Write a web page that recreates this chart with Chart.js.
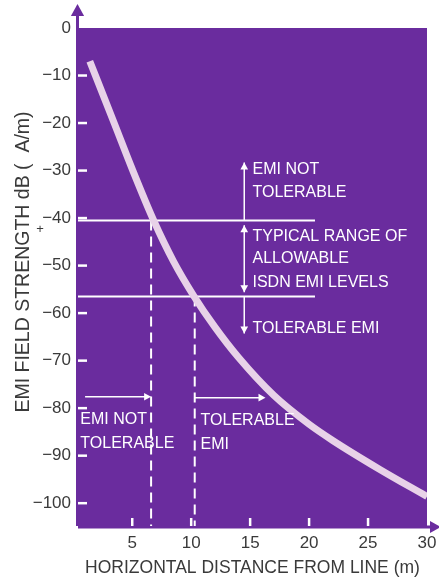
<!DOCTYPE html>
<html>
<head>
<meta charset="utf-8">
<script src="https://cdn.jsdelivr.net/npm/chart.js@4"></script>
<style>
  html, body { margin: 0; padding: 0; background: #fff; }
</style>
</head>
<body>
<canvas id="emiChart" width="439" height="583"></canvas>
<script>
////////////////////////////////////
//////////////// DATA //////////////
////////////////////////////////////

// EMI field strength vs horizontal distance from the line
const distance = [1.4, 3.5, 5, 6.8, 8.5, 10.2, 12, 14, 17, 20, 22, 26, 30];
const fieldStrength = [-7, -20.2, -29.7, -40.4, -49.1, -56.3, -62.9, -69.3, -77.3, -83.4, -86.8, -92.9, -98.6];

// typical range of allowable ISDN EMI levels
const allowableLevels = [-40.5, -56.5];
const levelLineEnd = 20.5;
// distances where the curve crosses those levels
const crossingDistance = [6.6, 10.3];

const xTicks = [5, 10, 15, 20, 25, 30];
const yTicks = [0, -10, -20, -30, -40, -50, -60, -70, -80, -90, -100];

const X_MIN = 0.4, X_MAX = 30, Y_MIN = -104.8, Y_MAX = 0;

const purple = '#6a2c9e';
const curveColor = '#e8d2e8';
const white = '#ffffff';
const inkColor = '#3a3a3a';
const textFont = '16px "Liberation Sans", Arial, sans-serif';

////////////////////////////////////
////////////// PLUGINS /////////////
////////////////////////////////////

function arrowHead(ctx, x, y, dir, size) {
  // dir: 'up' | 'down' | 'left' | 'right', tip at (x, y)
  const s = size || 6, w = s * 0.55;
  ctx.beginPath();
  if (dir === 'up') { ctx.moveTo(x, y); ctx.lineTo(x - w, y + s); ctx.lineTo(x + w, y + s); }
  if (dir === 'down') { ctx.moveTo(x, y); ctx.lineTo(x - w, y - s); ctx.lineTo(x + w, y - s); }
  if (dir === 'right') { ctx.moveTo(x, y); ctx.lineTo(x - s, y - w); ctx.lineTo(x - s, y + w); }
  if (dir === 'left') { ctx.moveTo(x, y); ctx.lineTo(x + s, y - w); ctx.lineTo(x + s, y + w); }
  ctx.closePath();
  ctx.fill();
}

const backdrop = {
  id: 'backdrop',
  beforeDraw(chart) {
    const { ctx, chartArea: a } = chart;
    ctx.save();
    ctx.fillStyle = purple;
    ctx.fillRect(a.left, a.top, a.right - a.left, a.bottom - a.top);

    // axis arrows
    ctx.strokeStyle = purple;
    ctx.lineWidth = 3;
    ctx.beginPath();
    ctx.moveTo(a.left - 0.5, a.bottom);
    ctx.lineTo(a.left - 0.5, 14);
    ctx.stroke();
    arrowHead(ctx, a.left - 0.5, 4, 'up', 12);
    ctx.beginPath();
    ctx.moveTo(a.left, a.bottom + 1);
    ctx.lineTo(434, a.bottom + 1);
    ctx.stroke();
    arrowHead(ctx, 441, a.bottom + 1, 'right', 11);

    // y axis title, drawn by hand so it sits where the original does
    ctx.fillStyle = inkColor;
    ctx.font = '19.5px "Liberation Sans", Arial, sans-serif';
    ctx.textAlign = 'center';
    ctx.textBaseline = 'middle';
    ctx.translate(24, 262);
    ctx.rotate(-Math.PI / 2);
    ctx.fillText('EMI FIELD STRENGTH dB (  A/m)', 0, 0);
    ctx.restore();

    // the stray mark beside "dB" in the axis title
    ctx.save();
    ctx.fillStyle = inkColor;
    ctx.font = '13px "Liberation Sans", Arial, sans-serif';
    ctx.textAlign = 'center';
    ctx.textBaseline = 'middle';
    ctx.fillText('+', 40, 229);
    ctx.restore();
  },
  beforeDatasetsDraw(chart) {
    const { ctx, chartArea: a, scales } = chart;
    ctx.save();
    ctx.strokeStyle = white;
    ctx.lineWidth = 2.5;
    yTicks.forEach((v) => {
      if (v === 0) return;
      const y = scales.y.getPixelForValue(v);
      ctx.beginPath();
      ctx.moveTo(a.left, y);
      ctx.lineTo(a.left + 9, y);
      ctx.stroke();
    });
    xTicks.forEach((v) => {
      if (v === X_MAX) return;
      const x = scales.x.getPixelForValue(v);
      ctx.beginPath();
      ctx.moveTo(x, a.bottom);
      ctx.lineTo(x, a.bottom - 8);
      ctx.stroke();
    });
    ctx.restore();
  },
};

// annotation arrows and labels, given in data units
const vArrows = [
  { x: 14.5, from: -40.5, to: -28.3, heads: ['end'] },
  { x: 14.5, from: -41.5, to: -55.6, heads: ['start', 'end'] },
  { x: 14.5, from: -56.5, to: -64.3, heads: ['end'] },
];
const hArrows = [
  { y: -77.6, from: 1.0, to: 6.6 },
  { y: -77.8, from: 10.3, to: 16.3 },
];
const labels = [
  { x: 0.6, y: -82.4, text: 'EMI NOT' },
  { x: 0.6, y: -87.5, text: 'TOLERABLE' },
  { x: 10.8, y: -82.6, text: 'TOLERABLE' },
  { x: 10.8, y: -87.7, text: 'EMI' },
  { x: 15.2, y: -29.9, text: 'EMI NOT' },
  { x: 15.2, y: -34.6, text: 'TOLERABLE' },
  { x: 15.2, y: -44.0, text: 'TYPICAL RANGE OF' },
  { x: 15.2, y: -48.6, text: 'ALLOWABLE' },
  { x: 15.2, y: -53.5, text: 'ISDN EMI LEVELS' },
  { x: 15.2, y: -63.3, text: 'TOLERABLE EMI' },
];

const annotations = {
  id: 'annotations',
  afterDatasetsDraw(chart) {
    const { ctx, scales } = chart;
    const px = (v) => scales.x.getPixelForValue(v);
    const py = (v) => scales.y.getPixelForValue(v);
    ctx.save();
    ctx.strokeStyle = white;
    ctx.fillStyle = white;
    ctx.lineWidth = 1.5;

    vArrows.forEach((arr) => {
      const x = px(arr.x), y0 = py(arr.from), y1 = py(arr.to);
      ctx.beginPath();
      ctx.moveTo(x, y0);
      ctx.lineTo(x, y1);
      ctx.stroke();
      const up = y1 < y0;
      if (arr.heads.includes('end')) arrowHead(ctx, x, y1, up ? 'up' : 'down', 7);
      if (arr.heads.includes('start')) arrowHead(ctx, x, y0, up ? 'down' : 'up', 7);
    });

    hArrows.forEach((arr) => {
      const y = py(arr.y), x0 = px(arr.from), x1 = px(arr.to);
      ctx.beginPath();
      ctx.moveTo(x0, y);
      ctx.lineTo(x1 - 4, y);
      ctx.stroke();
      arrowHead(ctx, x1, y, 'right', 7);
    });

    ctx.font = textFont;
    ctx.textBaseline = 'middle';
    ctx.textAlign = 'left';
    labels.forEach((l) => ctx.fillText(l.text, px(l.x), py(l.y)));
    ctx.restore();
  },
};

////////////////////////////////////
/////////////// CHART //////////////
////////////////////////////////////

function emiChart() {
  const ctx = document.getElementById('emiChart');

  const curve = distance.map((d, i) => ({ x: d, y: fieldStrength[i] }));
  const levelLines = allowableLevels.map((lvl) => ({
    data: [{ x: X_MIN, y: lvl }, { x: levelLineEnd, y: lvl }],
    borderColor: white,
    borderWidth: 2,
    pointRadius: 0,
    order: 2,
  }));
  const dropLines = crossingDistance.map((d, i) => ({
    data: [{ x: d, y: allowableLevels[i] }, { x: d, y: Y_MIN }],
    borderColor: white,
    borderWidth: 2,
    borderDash: [10, 6],
    pointRadius: 0,
    order: 2,
  }));

  new Chart(ctx, {
    type: 'line',
    data: {
      datasets: [
        {
          data: curve,
          borderColor: curveColor,
          borderWidth: 7,
          pointRadius: 0,
          cubicInterpolationMode: 'monotone',
          clip: 0,
          order: 0,
        },
        ...levelLines,
        ...dropLines,
      ],
    },
    options: {
      responsive: false,
      animation: false,
      devicePixelRatio: 1,
      layout: { padding: { top: 28, right: 12, left: 3, bottom: 0 } },
      plugins: {
        legend: { display: false },
        tooltip: { enabled: false },
      },
      scales: {
        x: {
          type: 'linear',
          min: X_MIN,
          max: X_MAX,
          afterBuildTicks: (scale) => { scale.ticks = xTicks.map((v) => ({ value: v })); },
          afterFit: (scale) => {
            scale.height = 57;
            scale.paddingLeft = 0;
            scale.paddingRight = 0;
          },
          grid: { display: false, drawTicks: false },
          border: { display: false },
          ticks: {
            padding: 7,
            color: inkColor,
            font: { family: 'Liberation Sans', size: 17 },
            maxRotation: 0,
          },
          title: {
            display: true,
            text: 'HORIZONTAL DISTANCE FROM LINE (m)',
            color: inkColor,
            font: { family: 'Liberation Sans', size: 17.5 },
            padding: { top: 4, bottom: 4 },
          },
        },
        y: {
          type: 'linear',
          min: Y_MIN,
          max: Y_MAX,
          afterBuildTicks: (scale) => { scale.ticks = yTicks.map((v) => ({ value: v })); },
          afterFit: (scale) => {
            scale.width = 75;
            scale.paddingTop = 0;
            scale.paddingBottom = 0;
          },
          grid: { display: false, drawTicks: false },
          border: { display: false },
          ticks: {
            padding: 7,
            color: inkColor,
            font: { family: 'Liberation Sans', size: 17 },
            callback: (v) => (v < 0 ? '\u2212' + Math.abs(v) : String(v)),
          },
        },
      },
    },
    plugins: [backdrop, annotations],
  });
}

emiChart();
</script>
</body>
</html>
